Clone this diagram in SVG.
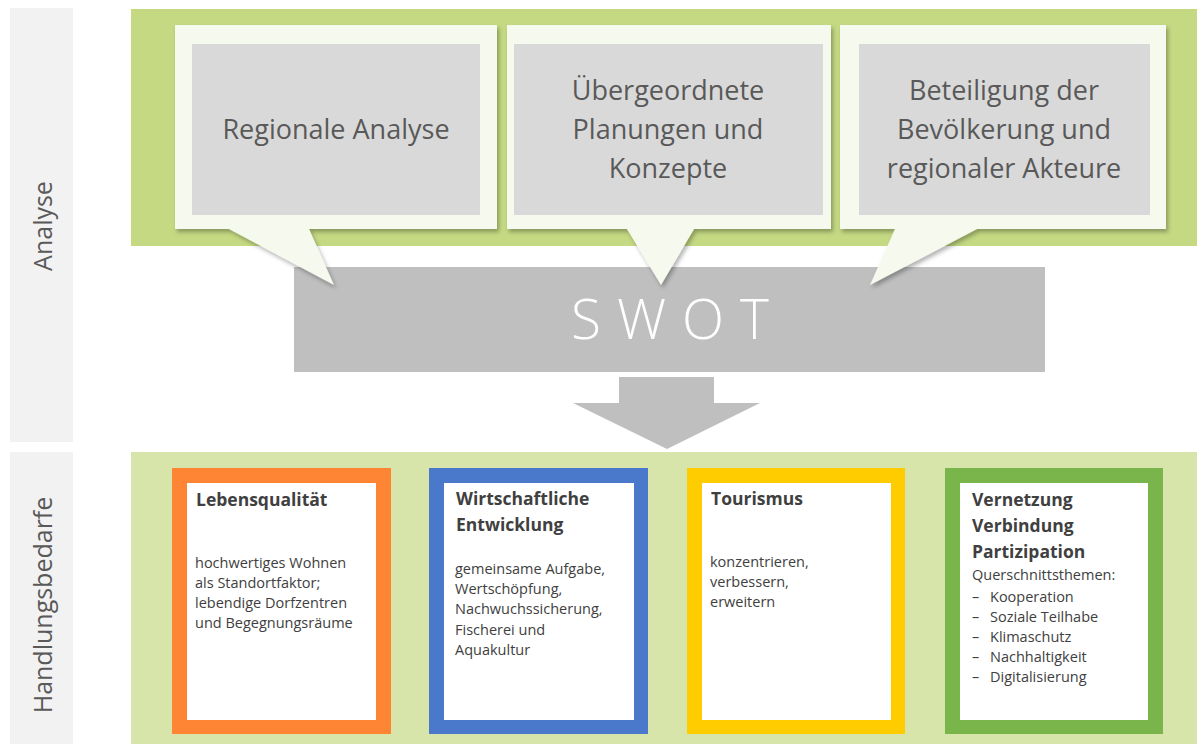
<svg xmlns="http://www.w3.org/2000/svg" width="1197" height="744" viewBox="0 0 1197 744">
<defs>
<style>
.side{fill:#f2f2f2}
.sidet{font-family:"Open Sans","Liberation Sans",sans-serif;font-size:25px;fill:#595959;text-anchor:middle}
.call{fill:#f5f9ee;filter:url(#sh)}
.inner{fill:#d9d9d9}
.ct{font-family:"Open Sans","Liberation Sans",sans-serif;font-size:27px;fill:#595959;text-anchor:middle}
.card{fill:#ffffff}
.tt{font-family:"Open Sans","Liberation Sans",sans-serif;font-size:17.5px;font-weight:700;fill:#404040}
.bt{font-family:"Open Sans","Liberation Sans",sans-serif;font-size:14.5px;fill:#404040}
</style>
<filter id="sh" x="-10%" y="-10%" width="120%" height="130%">
<feDropShadow dx="2" dy="3" stdDeviation="2" flood-color="#000" flood-opacity="0.3"/>
</filter>
</defs>
<rect width="1197" height="744" fill="#ffffff"/>
<g id="side-analyse">
<rect class="side" x="10" y="8" width="63" height="434"/>
<text class="sidet" transform="translate(52,226) rotate(-90)">Analyse</text>
</g>
<g id="side-handlung">
<rect class="side" x="10" y="452" width="63" height="292"/>
<text class="sidet" transform="translate(52,605) rotate(-90)">Handlungsbedarfe</text>
</g>
<rect id="band-top" x="131" y="9" width="1066" height="237" fill="#c4d982"/>
<rect id="band-bottom" x="131" y="452" width="1066" height="292" fill="#d7e4aa"/>
<g id="swot">
<rect x="294" y="267" width="751" height="105" fill="#bfbfbf"/>
<text x="678" y="339" font-family="'Open Sans','Liberation Sans',sans-serif" font-size="55" font-weight="300" fill="#ffffff" text-anchor="middle" letter-spacing="16">SWOT</text>
</g>
<g id="connectors">
<path d="M619,377 H714 V403 H760 L667,449 L573,403 H619 Z" fill="#bfbfbf"/>
</g>
<g id="callout-regionale">
<path class="call" d="M175,25 H497 V229 H309 L334,285 L229,229 H175 Z"/>
<rect class="inner" x="192" y="44" width="288" height="171"/>
<text class="ct" x="336" y="139">Regionale Analyse</text>
</g>
<g id="callout-planungen">
<path class="call" d="M507,25 H831 V229 H694 L661,285 L627,229 H507 Z"/>
<rect class="inner" x="514" y="44" width="309" height="171"/>
<text class="ct" x="668" y="100">Übergeordnete</text>
<text class="ct" x="668" y="139">Planungen und</text>
<text class="ct" x="668" y="178">Konzepte</text>
</g>
<g id="callout-beteiligung">
<path class="call" d="M840,25 H1166 V229 H977 L870,285 L895,229 H840 Z"/>
<rect class="inner" x="859" y="44" width="291" height="171"/>
<text class="ct" x="1004" y="100">Beteiligung der</text>
<text class="ct" x="1004" y="139">Bevölkerung und</text>
<text class="ct" x="1004" y="178">regionaler Akteure</text>
</g>
<g id="card-lebensqualitaet">
<rect x="172" y="468" width="219" height="266" fill="#fe8534"/>
<rect class="card" x="187" y="483" width="189" height="237"/>
<text class="tt" x="196" y="506">Lebensqualität</text>
<text class="bt" x="195" y="568">hochwertiges Wohnen</text>
<text class="bt" x="195" y="588">als Standortfaktor;</text>
<text class="bt" x="195" y="608">lebendige Dorfzentren</text>
<text class="bt" x="195" y="628">und Begegnungsräume</text>
</g>
<g id="card-wirtschaft">
<rect x="429" y="468" width="219" height="266" fill="#4a79cc"/>
<rect class="card" x="444" y="483" width="190" height="237"/>
<text class="tt" x="456" y="505">Wirtschaftliche</text>
<text class="tt" x="456" y="531">Entwicklung</text>
<text class="bt" x="455" y="574">gemeinsame Aufgabe,</text>
<text class="bt" x="455" y="594">Wertschöpfung,</text>
<text class="bt" x="455" y="614">Nachwuchssicherung,</text>
<text class="bt" x="455" y="635">Fischerei und</text>
<text class="bt" x="455" y="655">Aquakultur</text>
</g>
<g id="card-tourismus">
<rect x="687" y="468" width="218" height="266" fill="#ffcc00"/>
<rect class="card" x="702" y="483" width="189" height="237"/>
<text class="tt" x="711" y="505">Tourismus</text>
<text class="bt" x="710" y="567">konzentrieren,</text>
<text class="bt" x="710" y="587">verbessern,</text>
<text class="bt" x="710" y="607">erweitern</text>
</g>
<g id="card-vernetzung">
<rect x="945" y="468" width="218" height="266" fill="#79b54a"/>
<rect class="card" x="960" y="483" width="188" height="237"/>
<text class="tt" x="972" y="506">Vernetzung</text>
<text class="tt" x="972" y="532">Verbindung</text>
<text class="tt" x="972" y="558" font-size="18.5">Partizipation</text>
<text class="bt" x="972" y="580">Querschnittsthemen:</text>
<text class="bt" x="972" y="602">–</text><text class="bt" x="990" y="602">Kooperation</text>
<text class="bt" x="972" y="622">–</text><text class="bt" x="990" y="622">Soziale Teilhabe</text>
<text class="bt" x="972" y="642">–</text><text class="bt" x="990" y="642">Klimaschutz</text>
<text class="bt" x="972" y="662">–</text><text class="bt" x="990" y="662">Nachhaltigkeit</text>
<text class="bt" x="972" y="682">–</text><text class="bt" x="990" y="682">Digitalisierung</text>
</g>
</svg>
